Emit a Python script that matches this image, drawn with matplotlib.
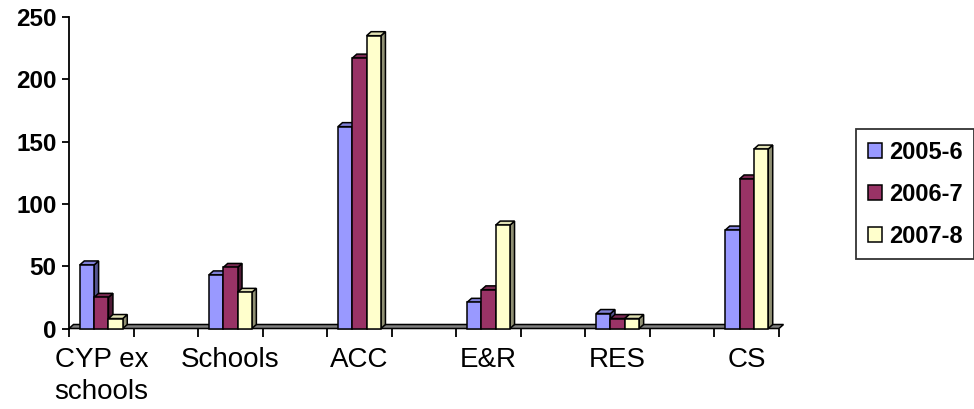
import numpy as np
import matplotlib.pyplot as plt
from matplotlib.patches import Polygon, Patch

categories = ["CYP ex\nschools", "Schools", "ACC", "E&R", "RES", "CS"]
years = ["2005-6", "2006-7", "2007-8"]
values_2005 = [51, 43, 162, 21, 12, 79]
values_2006 = [25, 49, 217, 31, 8, 120]
values_2007 = [8, 29, 235, 83, 8, 144]
y_ticks = [0, 50, 100, 150, 200, 250]

# front, top and side shades for each series
front_colors = ["#9999FF", "#993366", "#FFFFCC"]
top_colors = ["#7f7fd6", "#7a2952", "#e0e0b3"]
side_colors = ["#55558f", "#4f1a35", "#8f8f73"]

plt.rcParams["font.family"] = ["Liberation Sans", "DejaVu Sans"]

fig = plt.figure(figsize=(9.74, 4.09), dpi=100)
ax = fig.add_axes([69 / 974, 1 - 328.5 / 409, 710 / 974, 311.5 / 409])

n_slots = 2 * len(categories) - 1
ax.set_xlim(0, n_slots)
ax.set_ylim(0, 250)

# convert the 3D depth (pixels) into data units
p0 = ax.transData.transform((0, 0))
p1 = ax.transData.transform((1, 1))
dx = 4.5 / (p1[0] - p0[0])
dy = 4.0 / (p1[1] - p0[1])

# floor slab
floor = Polygon([(0, 0), (n_slots, 0), (n_slots + dx, dy), (dx, dy)],
                closed=True, facecolor="#808080", edgecolor="black",
                linewidth=1.1, clip_on=False, zorder=1)
ax.add_patch(floor)

series = [values_2005, values_2006, values_2007]
bar_w = 0.222
centers = np.arange(len(categories)) * 2 + 0.5
z = 2
for i, vals in enumerate(series):
    xs = centers + (i - 1) * bar_w
    for x, h in zip(xs, vals):
        x0, x1 = x - bar_w / 2, x + bar_w / 2
        side = Polygon([(x1, 0), (x1 + dx, dy), (x1 + dx, h + dy), (x1, h)],
                       facecolor=side_colors[i], edgecolor="black",
                       linewidth=1.1, clip_on=False, zorder=z)
        top = Polygon([(x0, h), (x1, h), (x1 + dx, h + dy), (x0 + dx, h + dy)],
                      facecolor=top_colors[i], edgecolor="black",
                      linewidth=1.1, clip_on=False, zorder=z)
        ax.add_patch(side)
        ax.add_patch(top)
        ax.bar(x, h, width=bar_w, color=front_colors[i], edgecolor="black",
               linewidth=1.1, zorder=z + 0.5, clip_on=False)
        z += 1

# axes styling
for s in ["top", "right", "bottom"]:
    ax.spines[s].set_visible(False)
ax.spines["left"].set_linewidth(1.3)
ax.set_yticks(y_ticks)
ax.set_yticklabels([str(t) for t in y_ticks], fontsize=17.5, fontweight="bold")
ax.tick_params(axis="y", length=5, width=1.3, pad=4)

ax.set_xticks(np.arange(n_slots + 1))
ax.set_xticklabels([])
ax.tick_params(axis="x", which="major", length=6, width=1.3, direction="out")
ax.set_xticks(centers, minor=True)
ax.set_xticklabels(categories, minor=True, fontsize=20, linespacing=1.32)
ax.tick_params(axis="x", which="minor", length=0, pad=13)

handles = [Patch(facecolor=c, edgecolor="black", linewidth=1.1) for c in front_colors]
leg = fig.legend(handles, years, loc="upper left",
                 bbox_to_anchor=(856 / 974, 1 - 129 / 409),
                 prop={"size": 17, "weight": "bold"},
                 fancybox=False, frameon=True, edgecolor="black",
                 handlelength=0.6, handleheight=0.6, handletextpad=0.3,
                 labelspacing=0.8, borderpad=0.5, borderaxespad=0)
leg.get_frame().set_linewidth(1.3)

fig.savefig("out.png", dpi=100)
